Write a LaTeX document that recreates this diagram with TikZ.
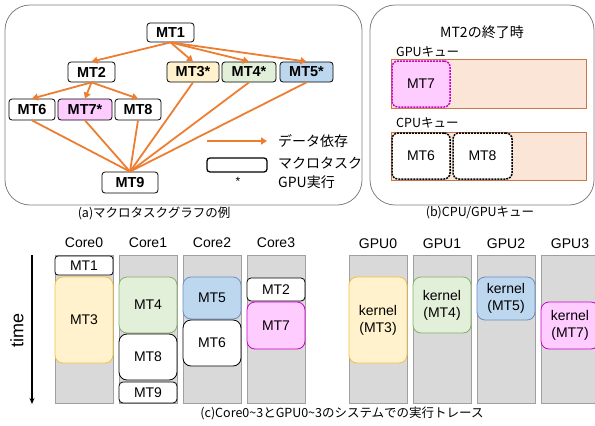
\documentclass[tikz,border=0pt]{standalone}
\usepackage{fontspec}
\setmainfont{Liberation Sans}
\newfontfamily\jp{Noto Sans CJK JP}
\usetikzlibrary{arrows.meta}
\definecolor{depor}{HTML}{ED7D31}
\definecolor{yfill}{HTML}{FFF2CC}
\definecolor{ydraw}{HTML}{F5C242}
\definecolor{gfill}{HTML}{E2EFD9}
\definecolor{gdraw}{HTML}{82B366}
\definecolor{bfill}{HTML}{BDD7EE}
\definecolor{bdraw}{HTML}{6C8EBF}
\definecolor{pfill}{HTML}{FFCCFF}
\definecolor{pdraw}{HTML}{CC00CC}
\definecolor{colgray}{HTML}{D9D9D9}
\definecolor{colbord}{HTML}{A0A0A0}
\definecolor{qfill}{HTML}{FBE5D6}
\definecolor{qdraw}{HTML}{C5784A}
\definecolor{panel}{HTML}{808080}
\tikzset{
  mt/.style={draw=black, line width=0.8pt, rounded corners=3pt, inner sep=0pt,
    font=\bfseries\fontsize{14.5}{15}\selectfont, minimum height=20pt},
  depline/.style={draw=depor, line width=1.8pt},
  dep/.style={depline, -{Triangle[length=6pt,width=7pt]}},
  panelbox/.style={draw=panel, line width=0.8pt, rounded corners=25pt},
  jlabel/.style={font=\jp\fontsize{14}{16}\selectfont, inner sep=0pt},
  captext/.style={font=\jp\fontsize{12.5}{14}\selectfont, inner sep=0pt},
  qbox/.style={draw=qdraw, fill=qfill, line width=0.8pt, inner sep=0pt},
  qtask/.style={line width=1.5pt, dash pattern=on 2pt off 1pt, rounded corners=6pt,
    minimum width=58pt, minimum height=46pt, inner sep=0pt, font=\fontsize{14}{16}\selectfont},
  colbox/.style={draw=colbord, fill=colgray, line width=0.8pt, minimum width=58pt,
    minimum height=148pt, inner sep=0pt},
  tk/.style={draw=black, fill=white, line width=0.8pt, rounded corners=5pt, minimum width=58pt,
    inner sep=0pt, align=center, font=\fontsize{14}{17}\selectfont},
  hdr/.style={font=\fontsize{14}{16}\selectfont, inner sep=0pt},
}
\begin{document}
\begin{tikzpicture}[x=1pt,y=-1pt]
\useasboundingbox (0,0) rectangle (595,426);
% ---------- panel (a)
\draw[panelbox] (5,5) rectangle (362,205);
\node[mt, minimum width=47pt, minimum height=19pt] (m1) at (170.5,32.5) {MT1};
\node[mt, minimum width=47pt] (m2) at (91.5,72) {MT2};
\node[mt, fill=yfill, minimum width=52pt] (m3) at (193,72) {MT3*};
\node[mt, fill=gfill, minimum width=54pt] (m4) at (249,72) {MT4*};
\node[mt, fill=bfill, minimum width=53pt] (m5) at (306.5,72) {MT5*};
\node[mt, minimum width=46pt, minimum height=21pt] (m6) at (32,109.5) {MT6};
\node[mt, fill=pfill, minimum width=54pt, minimum height=21pt] (m7) at (85,109.5) {MT7*};
\node[mt, minimum width=46pt, minimum height=21pt] (m8) at (138,109.5) {MT8};
\node[mt, minimum width=56pt, minimum height=21pt] (m9) at (130,182.5) {MT9};
\foreach \t in {m2,m3,m4,m5} \draw[dep] (m1.south) -- (\t.north);
\foreach \t in {m6,m7,m8} \draw[dep] (m2.south) -- (\t.north);
\foreach \s in {m6,m7,m8,m3,m4,m5} \draw[depline] (\s.south) -- (m9.north);
% legend
\coordinate (la) at (207,141);
\coordinate (lb) at (267,141);
\draw[dep] (la) -- (lb);
\node[draw=black, line width=1.3pt, rounded corners=3pt, minimum width=60pt, minimum height=14pt, inner sep=0pt] (lbox) at (237,165) {};
\node[font=\fontsize{12}{12}\selectfont, inner sep=0pt] (lstar) at (238,181) {*};
\node[jlabel, anchor=west] (l1) at (278,141) {データ依存};
\node[jlabel, anchor=west] (l2) at (278,163) {マクロタスク};
\node[jlabel, anchor=west] (l3) at (278,182) {GPU実行};
\node[captext] (capa) at (154,213) {(a)マクロタスクグラフの例};
% ---------- panel (b)
\draw[panelbox] (370,5) rectangle (594,205);
\node[jlabel] (btitle) at (482,32) {MT2の終了時};
\node[captext, anchor=west] (gql) at (396,52) {GPUキュー};
\draw[qbox] (391,59) rectangle (586,108);
\node[qtask, draw=pdraw, fill=pfill] (q7) at (421,84) {MT7};
\node[captext, anchor=west] (cql) at (396,123) {CPUキュー};
\draw[qbox] (391,132) rectangle (586,180);
\node[qtask, draw=black, fill=white] (q6) at (421,156) {MT6};
\node[qtask, draw=black, fill=white, minimum width=59pt] (q8) at (482.5,156) {MT8};
\node[captext] (capb) at (480,213) {(b)CPU/GPUキュー};
% ---------- panel (c)
\coordinate (ta) at (32,255);
\coordinate (tb) at (32,404);
\draw[line width=1.2pt, -{Stealth[length=6pt,width=5pt]}] (ta) -- (tb);
\node[font=\fontsize{18}{18}\selectfont, rotate=90, inner sep=0pt] (time) at (17,330) {time};
\foreach \x/\n in {84/0,148/1,212/2,276/3} {
  \node[hdr] (core\n) at (\x,243) {Core\n};
  \node[colbox] (ccol\n) at (\x,329) {};
}
\foreach \x/\n in {378/0,442/1,506/2,570/3} {
  \node[hdr] (gpu\n) at (\x,244) {GPU\n};
  \node[colbox] (gcol\n) at (\x,329.5) {};
}
\node[tk, rounded corners=3pt, minimum height=19pt] (c1) at (84,265.5) {MT1};
\node[tk, fill=yfill, draw=ydraw, rounded corners=8pt, minimum height=86pt] (c3) at (84,320) {MT3};
\node[tk, fill=gfill, draw=gdraw, rounded corners=8pt, minimum height=56pt] (c4) at (148,305) {MT4};
\node[tk, rounded corners=8pt, minimum height=46pt] (c8) at (148,357) {MT8};
\node[tk, rounded corners=4pt, minimum height=21pt] (c9) at (148,392.5) {MT9};
\node[tk, fill=bfill, draw=bdraw, rounded corners=8pt, minimum height=42pt] (c5) at (212,298) {MT5};
\node[tk, rounded corners=8pt, minimum height=46pt] (c6) at (212,343) {MT6};
\node[tk, rounded corners=4pt, minimum height=23pt] (c2) at (276,289.5) {MT2};
\node[tk, fill=pfill, draw=pdraw, rounded corners=8pt, minimum height=47pt] (c7) at (276,325.5) {MT7};
\node[tk, fill=yfill, draw=ydraw, rounded corners=8pt, minimum height=86pt] (k3) at (378,320) {kernel\\(MT3)};
\node[tk, fill=gfill, draw=gdraw, rounded corners=8pt, minimum height=56pt] (k4) at (442,305) {kernel\\(MT4)};
\node[tk, fill=bfill, draw=bdraw, rounded corners=8pt, minimum height=43pt] (k5) at (506,298.5) {kernel\\(MT5)};
\node[tk, fill=pfill, draw=pdraw, rounded corners=8pt, minimum height=47pt] (k7) at (570,325.5) {kernel\\(MT7)};
\node[captext] (capc) at (342,413) {(c)Core0\textasciitilde3とGPU0\textasciitilde3のシステムでの実行トレース};
\end{tikzpicture}
\end{document}
